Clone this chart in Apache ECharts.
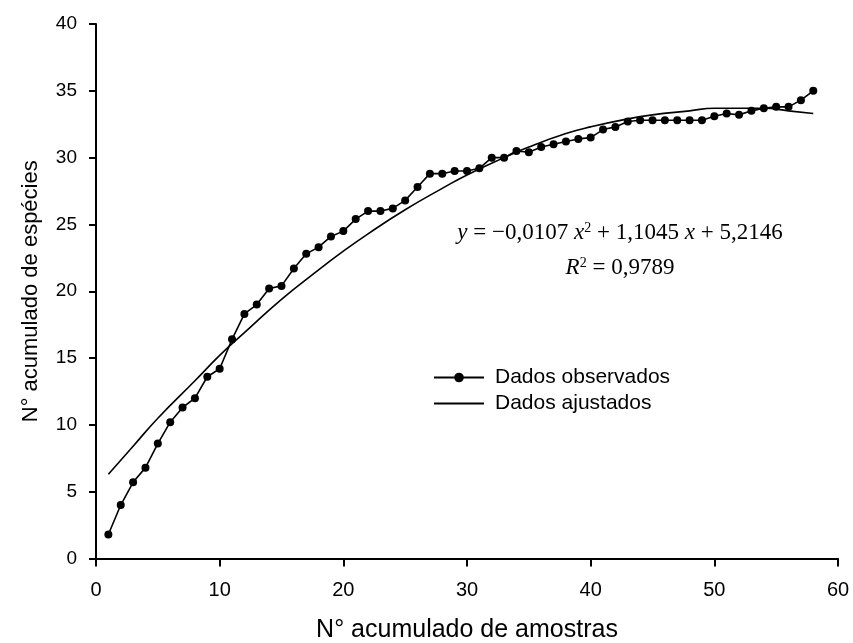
<!DOCTYPE html>
<html>
<head>
<meta charset="utf-8">
<script src="https://cdn.jsdelivr.net/npm/echarts@6/dist/echarts.min.js"></script>
<style>html,body{margin:0;padding:0;background:#fff}#c{width:853px;height:643px}</style>
</head>
<body>
<div id="c"></div>
<script>
// Observed cumulative species per cumulative sample (x = 1..58)
var sampleX = [1,2,3,4,5,6,7,8,9,10,11,12,13,14,15,16,17,18,19,20,21,22,23,24,25,26,27,28,29,30,31,32,33,34,35,36,37,38,39,40,41,42,43,44,45,46,47,48,49,50,51,52,53,54,55,56,57,58];
var observed = [1.8,4.0,5.7,6.8,8.6,10.2,11.3,12.0,13.6,14.2,16.4,18.3,19.0,20.2,20.4,21.7,22.8,23.3,24.1,24.5,25.4,26.0,26.0,26.2,26.8,27.8,28.8,28.8,29.0,29.0,29.2,30.0,30.0,30.5,30.4,30.8,31.0,31.2,31.4,31.5,32.1,32.3,32.7,32.8,32.8,32.8,32.8,32.8,32.8,33.1,33.3,33.2,33.5,33.7,33.8,33.8,34.3,35.0];
// Fitted curve
var fitX = [1,3,5,8,10,12,15,18,20,22,25,28,30,33,35,38,40,43,45,48,50,52,54,56,58];
var fitY = [6.3,8.4,10.5,13.3,15.2,16.9,19.4,21.6,23.0,24.3,26.1,27.7,28.7,30.0,30.8,31.8,32.3,32.9,33.2,33.5,33.7,33.7,33.7,33.5,33.3];
var xTicks = {min:0, max:60, interval:10};
var yTicks = {min:0, max:40, interval:5};
var seriesNames = ['Dados observados','Dados ajustados'];

var obsData = sampleX.map(function(x,i){return [x, observed[i]];});
var fitData = fitX.map(function(x,i){return [x, fitY[i]];});

var sans = 'Liberation Sans, Arial, sans-serif';
var serif = 'Liberation Serif, Times New Roman, serif';
var chart = echarts.init(document.getElementById('c'));
chart.setOption({
  animation:false,
  backgroundColor:'#fff',
  grid:{left:96, right:15, top:24, bottom:84.5, containLabel:false, outerBoundsMode:'none'},
  xAxis:{
    type:'value', min:xTicks.min, max:xTicks.max, interval:xTicks.interval,
    name:'N° acumulado de amostras', nameLocation:'middle', nameGap:59,
    nameTextStyle:{fontFamily:sans, fontSize:25, color:'#000'},
    axisLine:{show:true, lineStyle:{color:'#000', width:2}},
    axisTick:{show:true, inside:false, length:8, lineStyle:{color:'#000', width:2}},
    axisLabel:{margin:22, fontFamily:sans, fontSize:20, color:'#000'},
    splitLine:{show:false}
  },
  yAxis:{
    type:'value', min:yTicks.min, max:yTicks.max, interval:yTicks.interval,
    name:'N° acumulado de espécies', nameLocation:'middle', nameGap:54,
    nameTextStyle:{fontFamily:sans, fontSize:22, color:'#000'},
    axisLine:{show:true, lineStyle:{color:'#000', width:2}},
    axisTick:{show:true, inside:false, length:7, lineStyle:{color:'#000', width:2}},
    axisLabel:{margin:19, fontFamily:sans, fontSize:19, color:'#000'},
    splitLine:{show:false}
  },
  legend:{
    orient:'vertical', left:428, top:362, itemWidth:50, itemHeight:12, itemGap:5,
    textStyle:{fontFamily:sans, fontSize:21, color:'#000', padding:[0,0,0,6]},
    data:[{name:seriesNames[0]},{name:seriesNames[1], itemStyle:{opacity:0}}]
  },
  series:[
    {
      name:seriesNames[0], type:'line', data:obsData,
      symbol:'circle', symbolSize:8,
      itemStyle:{color:'#000'},
      lineStyle:{color:'#000', width:1.6}
    },
    {
      name:seriesNames[1], type:'line', data:fitData, smooth:true,
      symbol:'none', showSymbol:false,
      itemStyle:{color:'#000'},
      lineStyle:{color:'#000', width:1.6}
    }
  ],
  graphic:[
    {
      type:'text', x:620, y:233,
      style:{
        text:'{i|y} = −0,0107 {i|x}{s|2} + 1,1045 {i|x} + 5,2146',
        align:'center', verticalAlign:'middle',
        fontFamily:serif, fontSize:23, fill:'#000',
        rich:{
          i:{fontStyle:'italic', fontFamily:serif, fontSize:23},
          s:{fontFamily:serif, fontSize:14, verticalAlign:'top', padding:[0,0,9,0]}
        }
      }
    },
    {
      type:'text', x:620, y:268,
      style:{
        text:'{i|R}{s|2} = 0,9789',
        align:'center', verticalAlign:'middle',
        fontFamily:serif, fontSize:23, fill:'#000',
        rich:{
          i:{fontStyle:'italic', fontFamily:serif, fontSize:23},
          s:{fontFamily:serif, fontSize:14, verticalAlign:'top', padding:[0,0,9,0]}
        }
      }
    }
  ]
});
</script>
</body>
</html>
